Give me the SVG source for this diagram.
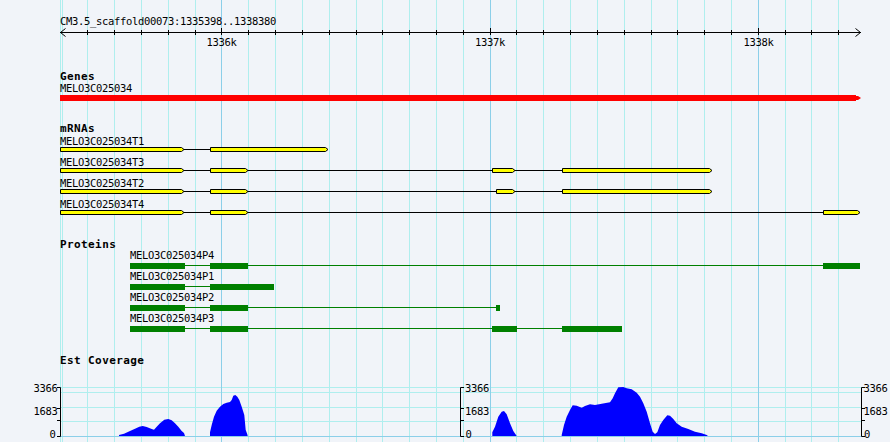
<svg xmlns="http://www.w3.org/2000/svg" width="890" height="442" viewBox="0 0 890 442">
<style>
.bg{fill:#f1f4f9}
.g{stroke:#afeeee;stroke-width:1}
.gm{stroke:#8ccfe9;stroke-width:1}
.t{font-family:"DejaVu Sans Mono","Liberation Mono",monospace;font-size:10.5px;letter-spacing:-0.32px;fill:#000}
.tb{font-family:"DejaVu Sans Mono","Liberation Mono",monospace;font-size:11px;font-weight:bold;letter-spacing:0.4px;fill:#000}
.k{stroke:#000;stroke-width:1;fill:none}
.ex{fill:#ffff00;stroke:#000;stroke-width:1}
.in{stroke:#000;stroke-width:1}
.pe{fill:#008000}
.pl{stroke:#008000;stroke-width:1}
.cov{fill:#0000ff}
</style>
<rect class="bg" x="0" y="0" width="890" height="442"/>
<g id="grid">
<g class="g">
<line x1="60.5" y1="0" x2="60.5" y2="442"/><line x1="62.5" y1="0" x2="62.5" y2="442"/>
<line x1="87.5" y1="0" x2="87.5" y2="442"/><line x1="114.5" y1="0" x2="114.5" y2="442"/>
<line x1="141.5" y1="0" x2="141.5" y2="442"/><line x1="168.5" y1="0" x2="168.5" y2="442"/>
<line x1="195.5" y1="0" x2="195.5" y2="442"/><line x1="248.5" y1="0" x2="248.5" y2="442"/>
<line x1="275.5" y1="0" x2="275.5" y2="442"/><line x1="302.5" y1="0" x2="302.5" y2="442"/>
<line x1="329.5" y1="0" x2="329.5" y2="442"/><line x1="356.5" y1="0" x2="356.5" y2="442"/>
<line x1="382.5" y1="0" x2="382.5" y2="442"/><line x1="409.5" y1="0" x2="409.5" y2="442"/>
<line x1="436.5" y1="0" x2="436.5" y2="442"/><line x1="463.5" y1="0" x2="463.5" y2="442"/>
<line x1="516.5" y1="0" x2="516.5" y2="442"/><line x1="543.5" y1="0" x2="543.5" y2="442"/>
<line x1="570.5" y1="0" x2="570.5" y2="442"/><line x1="597.5" y1="0" x2="597.5" y2="442"/>
<line x1="624.5" y1="0" x2="624.5" y2="442"/><line x1="651.5" y1="0" x2="651.5" y2="442"/>
<line x1="677.5" y1="0" x2="677.5" y2="442"/><line x1="704.5" y1="0" x2="704.5" y2="442"/>
<line x1="731.5" y1="0" x2="731.5" y2="442"/><line x1="785.5" y1="0" x2="785.5" y2="442"/>
<line x1="811.5" y1="0" x2="811.5" y2="442"/><line x1="838.5" y1="0" x2="838.5" y2="442"/>
<line x1="60" y1="387.5" x2="862" y2="387.5"/><line x1="60" y1="392.5" x2="862" y2="392.5"/>
<line x1="60" y1="407.5" x2="862" y2="407.5"/><line x1="60" y1="421.5" x2="862" y2="421.5"/>
</g>
<g class="gm">
<line x1="221.5" y1="0" x2="221.5" y2="442"/><line x1="490.5" y1="0" x2="490.5" y2="442"/>
<line x1="758.5" y1="0" x2="758.5" y2="442"/>
<line x1="60" y1="436.5" x2="862" y2="436.5"/>
</g>
</g>
<g id="ruler">
<text class="t" x="60" y="25">CM3.5_scaffold00073:1335398..1338380</text>
<line class="k" x1="60" y1="32.5" x2="861" y2="32.5"/>
<polyline class="k" points="65.5,28.5 60.5,32.5 65.5,36.5"/>
<polyline class="k" points="855.5,28.5 860.5,32.5 855.5,36.5"/>
<path class="k" d="M87.5 30V35M114.5 30V35M141.5 30V35M168.5 30V35M195.5 30V35M248.5 30V35M275.5 30V35M302.5 30V35M329.5 30V35M356.5 30V35M382.5 30V35M409.5 30V35M436.5 30V35M463.5 30V35M516.5 30V35M543.5 30V35M570.5 30V35M597.5 30V35M624.5 30V35M651.5 30V35M677.5 30V35M704.5 30V35M731.5 30V35M785.5 30V35M811.5 30V35M838.5 30V35M221.5 28V35M490.5 28V35M758.5 28V35"/>
<text class="t" x="221.5" y="46" text-anchor="middle">1336k</text>
<text class="t" x="490" y="46" text-anchor="middle">1337k</text>
<text class="t" x="758.5" y="46" text-anchor="middle">1338k</text>
</g>
<g id="genes">
<text class="tb" x="60" y="80">Genes</text>
<text class="t" x="60" y="92">MELO3C025034</text>
<rect x="60" y="95" width="796" height="6" fill="#ff0000"/>
<polygon points="856,96 858,96 861,98 858,100 856,100" fill="#ff0000"/>
</g>
<g id="mrnas">
<text class="tb" x="60" y="132">mRNAs</text>
<g id="T1">
<text class="t" x="60" y="145">MELO3C025034T1</text>
<line class="in" x1="184" y1="149.5" x2="210.5" y2="149.5"/>
<polygon class="ex" points="60.5,147.5 181.5,147.5 184,149.5 181.5,151.5 60.5,151.5"/>
<polygon class="ex" points="210.5,147.5 325.5,147.5 328,149.5 325.5,151.5 210.5,151.5"/>
</g>
<g id="T3">
<text class="t" x="60" y="166">MELO3C025034T3</text>
<path class="in" d="M184 170.5H210.5M248 170.5H492.5M515 170.5H562.5"/>
<polygon class="ex" points="60.5,168.5 181.5,168.5 184,170.5 181.5,172.5 60.5,172.5"/>
<polygon class="ex" points="210.5,168.5 245.5,168.5 248,170.5 245.5,172.5 210.5,172.5"/>
<polygon class="ex" points="492.5,168.5 512.5,168.5 515,170.5 512.5,172.5 492.5,172.5"/>
<polygon class="ex" points="562.5,168.5 709.5,168.5 712,170.5 709.5,172.5 562.5,172.5"/>
</g>
<g id="T2">
<text class="t" x="60" y="187">MELO3C025034T2</text>
<path class="in" d="M184 191.5H210.5M248 191.5H496.5M515 191.5H562.5"/>
<polygon class="ex" points="60.5,189.5 181.5,189.5 184,191.5 181.5,193.5 60.5,193.5"/>
<polygon class="ex" points="210.5,189.5 245.5,189.5 248,191.5 245.5,193.5 210.5,193.5"/>
<polygon class="ex" points="496.5,189.5 512.5,189.5 515,191.5 512.5,193.5 496.5,193.5"/>
<polygon class="ex" points="562.5,189.5 709.5,189.5 712,191.5 709.5,193.5 562.5,193.5"/>
</g>
<g id="T4">
<text class="t" x="60" y="208">MELO3C025034T4</text>
<path class="in" d="M184 212.5H210.5M248 212.5H823.5"/>
<polygon class="ex" points="60.5,210.5 181.5,210.5 184,212.5 181.5,214.5 60.5,214.5"/>
<polygon class="ex" points="210.5,210.5 245.5,210.5 248,212.5 245.5,214.5 210.5,214.5"/>
<polygon class="ex" points="823.5,210.5 857.5,210.5 860,212.5 857.5,214.5 823.5,214.5"/>
</g>
</g>
<g id="proteins">
<text class="tb" x="60" y="248">Proteins</text>
<g id="P4">
<text class="t" x="130" y="259">MELO3C025034P4</text>
<path class="pl" d="M185 265.5H210M248 265.5H823"/>
<rect class="pe" x="130" y="263" width="55" height="6"/>
<rect class="pe" x="210" y="263" width="38" height="6"/>
<rect class="pe" x="823" y="263" width="37" height="6"/>
</g>
<g id="P1">
<text class="t" x="130" y="280">MELO3C025034P1</text>
<path class="pl" d="M185 286.5H210"/>
<rect class="pe" x="130" y="284" width="55" height="6"/>
<rect class="pe" x="210" y="284" width="64" height="6"/>
</g>
<g id="P2">
<text class="t" x="130" y="301">MELO3C025034P2</text>
<path class="pl" d="M185 307.5H210M248 307.5H496"/>
<rect class="pe" x="130" y="305" width="55" height="6"/>
<rect class="pe" x="210" y="305" width="38" height="6"/>
<rect class="pe" x="496" y="305" width="4" height="6"/>
</g>
<g id="P3">
<text class="t" x="130" y="322">MELO3C025034P3</text>
<path class="pl" d="M185 328.5H210M248 328.5H492M517 328.5H562"/>
<rect class="pe" x="130" y="326" width="55" height="6"/>
<rect class="pe" x="210" y="326" width="38" height="6"/>
<rect class="pe" x="492" y="326" width="25" height="6"/>
<rect class="pe" x="562" y="326" width="60" height="6"/>
</g>
</g>
<g id="coverage">
<text class="tb" x="60" y="364">Est Coverage</text>
<polygon class="cov" points="119,436 119,435 124,433.7 130,431 135,428.7 139.3,426.7 142.7,426 146.7,427 151.7,429 154,429.7 156.7,426.7 160,423.3 164.3,419.7 168.3,419 171.7,420.3 175,423.3 178.3,426.7 181.7,431 184,433 185,436"/>
<polygon class="cov" points="210,436 210,432.3 211.7,425 214,416.7 216.7,410.7 220,406.7 223.3,404 226.7,402.7 230,402 231.7,400 233.3,395.7 235.3,395 237.3,396.7 239.3,400 241.7,406.7 244.3,415 245.7,430 247.3,434.3 247.7,436"/>
<polygon class="cov" points="492.3,436 492.3,432.3 495,426.7 498.3,416.7 501.7,411.7 504,411 506.7,414.3 510,423.3 513.3,431 516.7,436"/>
<polygon class="cov" points="561.7,436 561.7,435 564,425 566.7,416.7 570,410 572.7,405.3 576.7,405.7 581.7,407.7 585,406 590,404.3 595,405 601.7,403.7 610,402.3 612.7,398.3 615,393.3 618.3,387.3 623.3,387 626.7,388.3 631.7,389.3 636.7,392.7 640,396.7 643.3,403.3 646.7,411.7 650,423.3 652.7,431.7 655,434 657.3,432.3 660,425 663.3,420 667.3,415.3 670,415.7 673.3,419 676.7,423.3 681.7,426.7 688.3,429 695,431.7 701.7,433.3 706.7,435 708,436"/>
<g id="axis-left">
<path class="k" d="M60.5 387.5V436.5M57 387.5H60.5M57 408.5H60.5M57 420.5H60.5M57 436.5H60.5"/>
<text class="t" x="57.5" y="391.7" text-anchor="end">3366</text>
<text class="t" x="57.5" y="415" text-anchor="end">1683</text>
<text class="t" x="55.5" y="438.3" text-anchor="end">0</text>
</g>
<g id="axis-mid">
<path class="k" d="M460.5 387.5V436.5M460.5 387.5H464M460.5 408.5H464M460.5 420.5H464M460.5 436.5H464"/>
<text class="t" x="465" y="391.7">3366</text>
<text class="t" x="465" y="415">1683</text>
<text class="t" x="465.5" y="438.3">0</text>
</g>
<g id="axis-right">
<path class="k" d="M861.5 387.5V436.5M861.5 387.5H865M861.5 408.5H865M861.5 420.5H865M861.5 436.5H865"/>
<text class="t" x="863.5" y="391.7">3366</text>
<text class="t" x="863.5" y="415">1683</text>
<text class="t" x="864" y="438.3">0</text>
</g>
</g>
</svg>
